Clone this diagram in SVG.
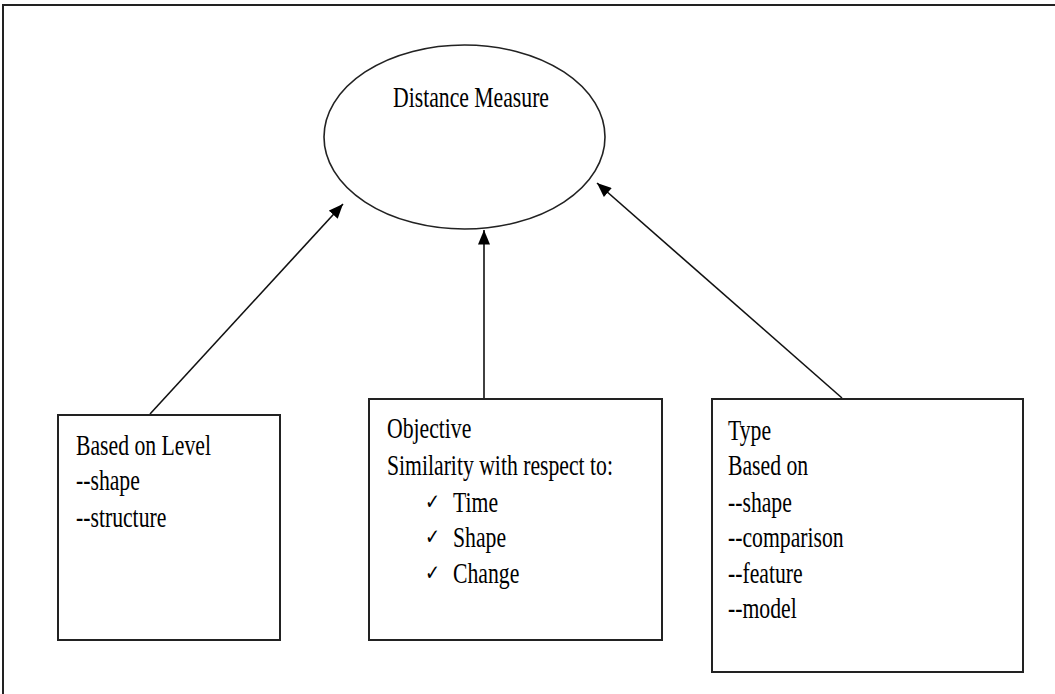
<svg xmlns="http://www.w3.org/2000/svg" width="1055" height="694" viewBox="0 0 1055 694">
<style>
.frame{fill:none;stroke:#222;stroke-width:2}
.box{fill:#fff;stroke:#222;stroke-width:2}
.conn{fill:none;stroke:#111;stroke-width:1.6}
.t{font-family:"Liberation Serif","Times New Roman",serif;font-size:21.7px;fill:#000}
.ck{font-family:"DejaVu Sans",sans-serif;font-size:18px;fill:#000}
</style>
<defs>
<marker id="ah2" viewBox="0 0 12 10" refX="12" refY="5" markerWidth="15" markerHeight="12" markerUnits="userSpaceOnUse" orient="auto">
<path d="M0,0 L12,5 L0,10 z" fill="#000"/>
</marker>
</defs>
<rect width="1055" height="694" fill="#fff"/>
<path class="frame" d="M3,694 L3,5 L1055,5"/>
<g id="connectors">
<line class="conn" x1="150" y1="414" x2="343" y2="204" marker-end="url(#ah2)"/>
<line class="conn" x1="484" y1="399" x2="484" y2="230" marker-end="url(#ah2)"/>
<line class="conn" x1="842" y1="398" x2="597" y2="183" marker-end="url(#ah2)"/>
</g>
<g id="distance-measure">
<ellipse cx="464.5" cy="137" rx="140.5" ry="92" fill="none" stroke="#222" stroke-width="1.6"/>
<text class="t" text-anchor="middle" transform="matrix(1 0 0 1.38 471 107)">Distance Measure</text>
</g>
<g id="level">
<rect class="box" x="58" y="415" width="222" height="225"/>
<text class="t" transform="matrix(1 0 0 1.38 76 455)">Based on Level</text>
<text class="t" transform="matrix(1 0 0 1.38 76 490)">--shape</text>
<text class="t" transform="matrix(1 0 0 1.38 76 527)">--structure</text>
</g>
<g id="objective">
<rect class="box" x="369" y="399" width="293" height="241"/>
<text class="t" transform="matrix(1 0 0 1.38 387 438)">Objective</text>
<text class="t" transform="matrix(1 0 0 1.38 387 475)">Similarity with respect to:</text>
<text class="ck" transform="matrix(1 0 0 1.2 425 509)">✓</text>
<text class="t" transform="matrix(1 0 0 1.38 453 512)">Time</text>
<text class="ck" transform="matrix(1 0 0 1.2 425 544)">✓</text>
<text class="t" transform="matrix(1 0 0 1.38 453 547)">Shape</text>
<text class="ck" transform="matrix(1 0 0 1.2 425 580)">✓</text>
<text class="t" transform="matrix(1 0 0 1.38 453 583)">Change</text>
</g>
<g id="type">
<rect class="box" x="712" y="399" width="311" height="273"/>
<text class="t" transform="matrix(1 0 0 1.38 728 440)">Type</text>
<text class="t" transform="matrix(1 0 0 1.38 728 475)">Based on</text>
<text class="t" transform="matrix(1 0 0 1.38 728 512)">--shape</text>
<text class="t" transform="matrix(1 0 0 1.38 728 547)">--comparison</text>
<text class="t" transform="matrix(1 0 0 1.38 728 583)">--feature</text>
<text class="t" transform="matrix(1 0 0 1.38 728 618)">--model</text>
</g>
</svg>
